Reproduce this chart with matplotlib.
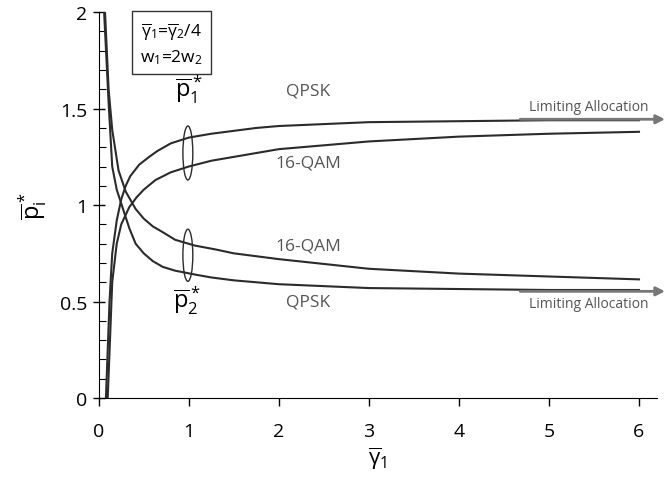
import matplotlib.pyplot as plt
from matplotlib.patches import Ellipse
from matplotlib.ticker import MultipleLocator

plt.rcParams['font.family'] = ['Open Sans', 'DejaVu Sans']
plt.rcParams['mathtext.fontset'] = 'custom'
plt.rcParams['mathtext.rm'] = 'Open Sans'
plt.rcParams['mathtext.it'] = 'Open Sans'

# curves
x_qpsk_p1 = [0.08, 0.12, 0.15, 0.2, 0.25, 0.3, 0.35, 0.45, 0.56, 0.65, 0.8, 1.0, 1.25, 1.5, 1.75, 2, 2.5, 3, 4, 5, 6]
y_qpsk_p1 = [0.0, 0.5, 0.75, 0.92, 1.03, 1.1, 1.15, 1.21, 1.25, 1.28, 1.32, 1.35, 1.37, 1.385, 1.4, 1.41, 1.42, 1.43, 1.435, 1.44, 1.44]

x_qam_p1 = [0.1, 0.15, 0.2, 0.25, 0.34, 0.42, 0.5, 0.63, 0.8, 1.0, 1.25, 1.5, 2, 2.5, 3, 4, 5, 6]
y_qam_p1 = [0.0, 0.6, 0.8, 0.9, 0.99, 1.04, 1.08, 1.13, 1.17, 1.2, 1.23, 1.25, 1.29, 1.31, 1.33, 1.355, 1.37, 1.38]

x_qpsk_p2 = [0.06, 0.11, 0.15, 0.2, 0.27, 0.34, 0.41, 0.5, 0.6, 0.71, 0.85, 1.07, 1.25, 1.5, 2, 2.5, 3, 4, 5, 6]
y_qpsk_p2 = [2.0, 1.53, 1.2, 1.08, 0.98, 0.88, 0.8, 0.75, 0.71, 0.68, 0.66, 0.64, 0.625, 0.61, 0.59, 0.58, 0.57, 0.565, 0.56, 0.56]

x_qam_p2 = [0.07, 0.11, 0.15, 0.22, 0.3, 0.41, 0.5, 0.6, 0.71, 0.85, 1.07, 1.3, 1.5, 2, 2.5, 3, 4, 5, 6]
y_qam_p2 = [2.0, 1.6, 1.39, 1.18, 1.07, 0.98, 0.93, 0.89, 0.86, 0.82, 0.79, 0.77, 0.75, 0.72, 0.695, 0.67, 0.645, 0.63, 0.615]

limit_qpsk_p1 = 1.445
limit_qpsk_p2 = 0.553

fig, ax = plt.subplots(figsize=(6.67, 4.89), dpi=100)
fig.subplots_adjust(left=0.148, right=0.985, top=0.973, bottom=0.184)

line_col = '#2b2b2b'
for xs, ys in [(x_qpsk_p1, y_qpsk_p1), (x_qam_p1, y_qam_p1),
               (x_qpsk_p2, y_qpsk_p2), (x_qam_p2, y_qam_p2)]:
    ax.plot(xs, ys, color=line_col, lw=1.5)

ax.set_xlim(0, 6.2)
ax.set_ylim(0, 2)
ax.spines['top'].set_visible(False)
ax.spines['right'].set_visible(False)
ax.set_xticks([0, 1, 2, 3, 4, 5, 6])
ax.set_yticks([0, 0.5, 1, 1.5, 2])
ax.set_yticklabels(['0', '0.5', '1', '1.5', '2'])
ax.yaxis.set_minor_locator(MultipleLocator(0.1))
ax.tick_params(axis='both', which='major', labelsize=14, direction='inout', length=9, width=1)
ax.tick_params(axis='x', which='major', direction='out', length=6, pad=11)
ax.tick_params(axis='y', which='minor', direction='in', length=5, width=0.8)

ax.set_xlabel(r'$\overline{\gamma}_1$', fontsize=16, labelpad=4)
ax.set_ylabel(r'$\overline{\mathrm{p}}_i^*$', fontsize=17, labelpad=8)

# limiting allocation arrows
arr_col = '#777777'
for yv, ty in [(limit_qpsk_p1, limit_qpsk_p1 + 0.065), (limit_qpsk_p2, limit_qpsk_p2 - 0.065)]:
    ax.annotate('', xy=(6.32, yv), xytext=(4.65, yv),
                arrowprops=dict(arrowstyle='-|>', color=arr_col, lw=2, mutation_scale=13),
                annotation_clip=False)
    ax.text(5.44, ty, 'Limiting Allocation', fontsize=10, color='#555555',
            ha='center', va='center')

# curve labels
lab_col = '#555555'
ax.text(2.33, 1.595, 'QPSK', fontsize=12.5, color=lab_col, ha='center', va='center')
ax.text(2.33, 1.22, '16-QAM', fontsize=12.5, color=lab_col, ha='center', va='center')
ax.text(2.33, 0.79, '16-QAM', fontsize=12.5, color=lab_col, ha='center', va='center')
ax.text(2.33, 0.50, 'QPSK', fontsize=12.5, color=lab_col, ha='center', va='center')

# ellipses grouping the curves
ax.add_patch(Ellipse((0.99, 1.27), 0.11, 0.28, fill=False, color=line_col, lw=1))
ax.add_patch(Ellipse((0.99, 0.74), 0.11, 0.27, fill=False, color=line_col, lw=1))
ax.text(1.0, 1.6, r'$\overline{\mathrm{p}}_1^*$', fontsize=17, ha='center', va='center')
ax.text(0.98, 0.51, r'$\overline{\mathrm{p}}_2^*$', fontsize=17, ha='center', va='center')

# parameter box
ax.text(0.81, 1.84, '$\\overline{\\gamma}_1$=$\\overline{\\gamma}_2$/4\nw$_1$=2w$_2$',
        fontsize=12.5, ha='center', va='center', linespacing=1.5,
        bbox=dict(boxstyle='square,pad=0.45', fc='white', ec='#333333', lw=1))

fig.savefig('out.png', dpi=100)
